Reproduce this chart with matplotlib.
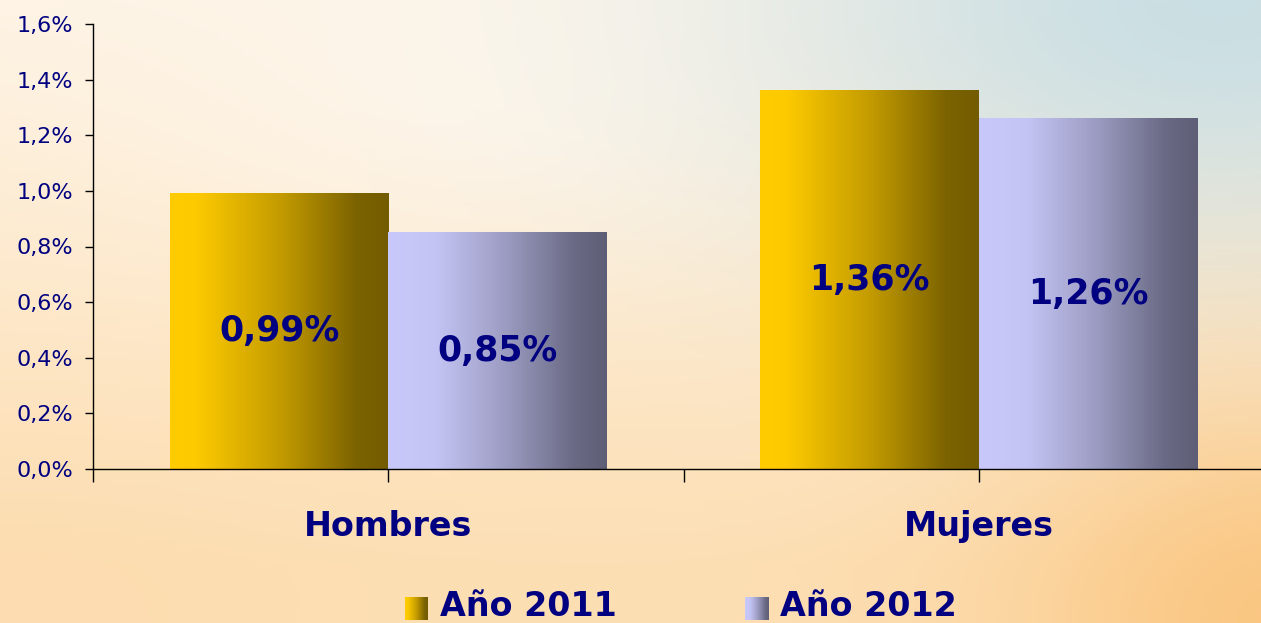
import numpy as np
import matplotlib
matplotlib.use("Agg")
import matplotlib.pyplot as plt
from matplotlib.colors import LinearSegmentedColormap
from matplotlib.ticker import FuncFormatter

categories = ["Hombres", "Mujeres"]
series_names = ["Año 2011", "Año 2012"]
values_2011 = [0.99, 1.36]
values_2012 = [0.85, 1.26]
value_labels_2011 = ["0,99%", "1,36%"]
value_labels_2012 = ["0,85%", "1,26%"]
y_ticks = [0.0, 0.2, 0.4, 0.6, 0.8, 1.0, 1.2, 1.4, 1.6]

W, H = 1261, 623
fig = plt.figure(figsize=(W / 100, H / 100), dpi=100)

# ---- background gradient ----
bg = fig.add_axes([0, 0, 1, 1], zorder=-10)
bg.set_axis_off()
yy, xx = np.mgrid[0:1:200j, 0:1:400j]
top = np.array([254, 243, 228]) / 255
bot = np.array([253, 223, 180]) / 255
t = np.clip(yy * 1.1, 0, 1)[..., None]
img = (1 - t) * top + t * bot


def blend(img, cx, cy, rx, ry, col, a):
    w = a * np.exp(-(((xx - cx) / rx) ** 2 + ((yy - cy) / ry) ** 2))[..., None]
    return img * (1 - w) + np.array(col) / 255 * w


img = blend(img, 0.42, 0.12, 0.30, 0.30, (255, 248, 238), 0.8)
img = blend(img, 0.97, 0.0, 0.38, 0.42, (200, 222, 228), 0.95)
img = blend(img, 1.02, 1.0, 0.22, 0.35, (250, 196, 125), 0.9)
img = blend(img, 0.0, 1.0, 0.25, 0.3, (252, 218, 172), 0.5)
bg.imshow(np.clip(img, 0, 1), extent=[0, 1, 0, 1], aspect="auto", origin="upper")
bg.set_xlim(0, 1)
bg.set_ylim(0, 1)

# ---- main axes ----
left = 93 / W
bottom = 1 - 469 / H
ax = fig.add_axes([left, bottom, 1 - left, 445 / H])
ax.patch.set_alpha(0)

navy = "#000080"
cmap11 = LinearSegmentedColormap.from_list(
    "g11", [(0, "#FFCC00"), (0.12, "#FDCA00"), (0.5, "#C49C00"), (0.85, "#7C6300"), (1, "#735C00")])
cmap12 = LinearSegmentedColormap.from_list(
    "g12", [(0, "#C8C8FA"), (0.22, "#C4C4F4"), (0.55, "#9A9AC0"), (0.85, "#6A6A85"), (1, "#5E5E76")])

x = np.arange(len(categories))
bw = 0.37
bars11 = ax.bar(x - bw / 2, values_2011, width=bw, color="none", edgecolor="none")
bars12 = ax.bar(x + bw / 2, values_2012, width=bw, color="none", edgecolor="none")
grad = np.linspace(0, 1, 256).reshape(1, -1)
for bars, cm in ((bars11, cmap11), (bars12, cmap12)):
    for b in bars:
        x0, y0 = b.get_x(), b.get_y()
        ax.imshow(grad, cmap=cm, extent=[x0, x0 + b.get_width(), y0, y0 + b.get_height()],
                  aspect="auto", clip_path=b, clip_on=True, zorder=2)

for bars, labels in ((bars11, value_labels_2011), (bars12, value_labels_2012)):
    for b, lab in zip(bars, labels):
        ax.text(b.get_x() + b.get_width() / 2, b.get_height() / 2, lab, ha="center", va="center",
                fontsize=25, fontweight="bold", color=navy, zorder=3)

for s in ("top", "right"):
    ax.spines[s].set_visible(False)
ax.spines["left"].set_bounds(0, 1.6)
ax.spines["left"].set_linewidth(1.0)
ax.spines["bottom"].set_linewidth(1.0)

ax.set_yticks(y_ticks)
ax.yaxis.set_major_formatter(FuncFormatter(lambda v, p: f"{v:.1f}%".replace(".", ",")))
ax.tick_params(axis="y", direction="out", length=6, width=1, pad=8, labelsize=16, labelcolor=navy)

ax.set_xticks([-0.5, 0, 0.5, 1, 1.5])
ax.set_xticklabels([])
ax.tick_params(axis="x", direction="out", length=9, width=1)

ax.set_aspect("auto")
ax.set_xlim(-0.5, (W - 93) / 590.7 - 0.5)
ax.set_ylim(0, 1.6)

for i, c in enumerate(categories):
    ax.text(i, -0.13, c, transform=ax.get_xaxis_transform(), ha="center", va="center",
            fontsize=24, fontweight="bold", color=navy, clip_on=False)

# ---- legend ----
sq = 23
for (px, name, cm) in ((405, series_names[0], cmap11), (745, series_names[1], cmap12)):
    lax = fig.add_axes([px / W, 1 - 620 / H, sq / W, sq / H])
    lax.imshow(grad, cmap=cm, aspect="auto")
    lax.set_axis_off()
    fig.text((px + 35) / W, 1 - 607 / H, name, ha="left", va="center",
             fontsize=24, fontweight="bold", color=navy)

fig.savefig("out.png", dpi=100)
